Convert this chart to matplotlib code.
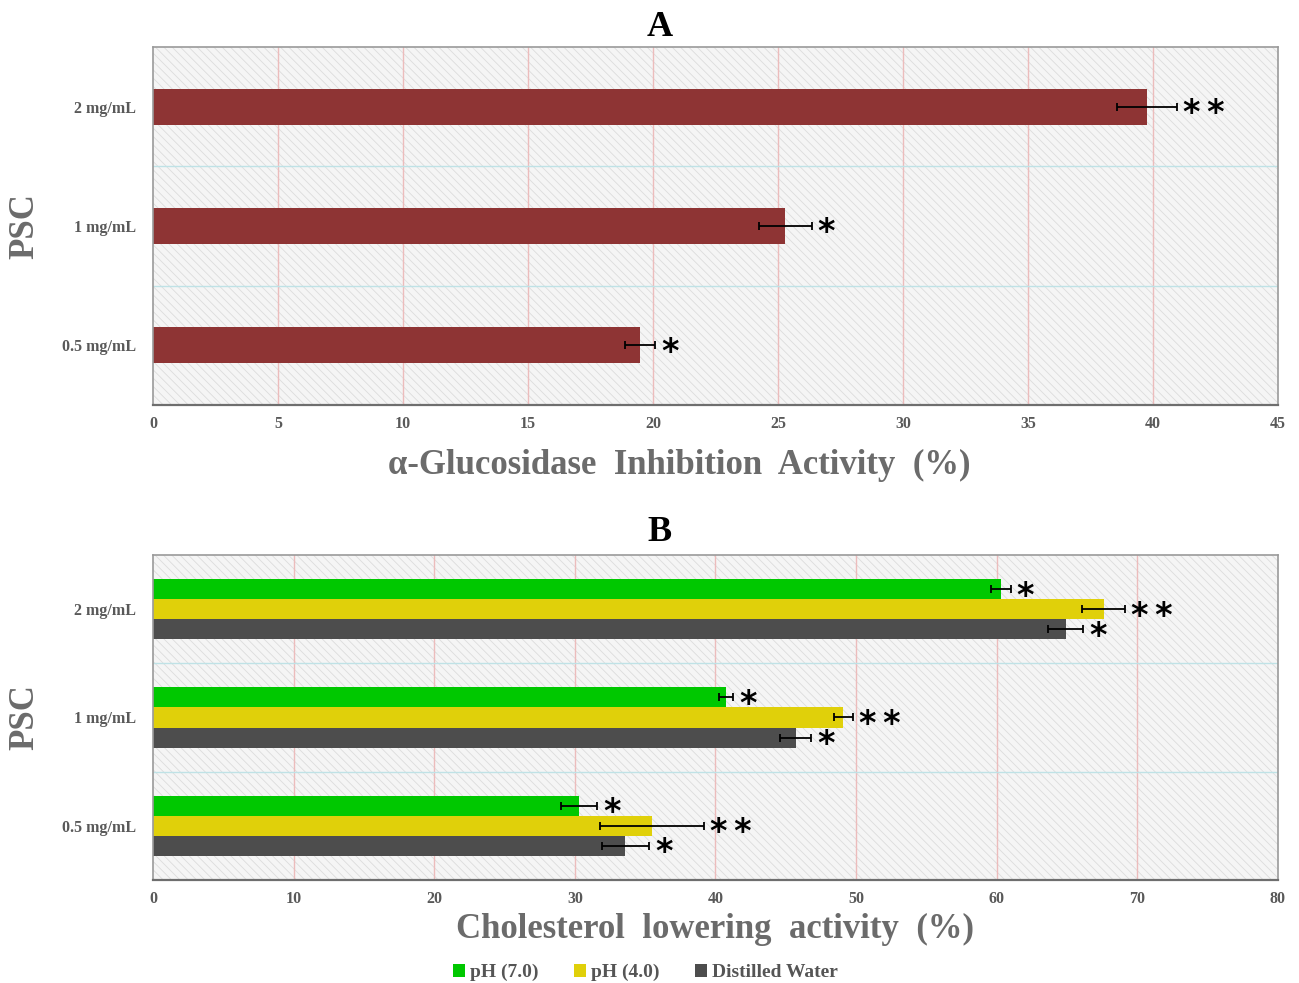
import matplotlib
matplotlib.use("Agg")
import matplotlib.pyplot as plt
import numpy as np
from matplotlib.patches import Rectangle

plt.rcParams['font.family'] = ['Liberation Serif', 'DejaVu Serif']
plt.rcParams['font.weight'] = 'bold'
plt.rcParams['axes.labelweight'] = 'bold'
plt.rcParams['axes.titleweight'] = 'bold'
plt.rcParams['hatch.color'] = '#dedede'
plt.rcParams['hatch.linewidth'] = 0.6

doses = ['0.5 mg/mL', '1 mg/mL', '2 mg/mL']

# panel A: alpha-glucosidase inhibition
gluc = [19.5, 25.3, 39.75]
gluc_err = [0.6, 1.05, 1.2]
gluc_sig = ['*', '*', '**']

# panel B: cholesterol lowering
series = ['pH (7.0)', 'pH (4.0)', 'Distilled Water']
chol_ph7 = [30.3, 40.75, 60.3]
chol_ph4 = [35.5, 49.1, 67.6]
chol_dw = [33.6, 45.7, 64.9]
err_ph7 = [1.3, 0.5, 0.7]
err_ph4 = [3.7, 0.7, 1.55]
err_dw = [1.7, 1.1, 1.25]
sig_ph7 = ['*', '*', '*']
sig_ph4 = ['**', '**', '**']
sig_dw = ['*', '*', '*']
colors = ['#00c800', '#e0d00a', '#4d4d4d']

tick_gray = '#595959'
label_gray = '#6b6b6b'


def style_axes(ax, xmax, step):
    ax.set_xlim(0, xmax)
    ax.set_ylim(-0.5, 2.5)
    ax.set_facecolor('#f5f5f5')
    ax.add_patch(Rectangle((0, 0), 1, 1, transform=ax.transAxes, facecolor='none',
                           edgecolor='#dcdcdc', hatch='\\\\\\\\', lw=0, zorder=0))
    for x in np.arange(step, xmax, step):
        ax.axvline(x, color='#ecbcbc', lw=1.0, zorder=1)
    for y in [0.5, 1.5]:
        ax.axhline(y, color='#bfe2e6', lw=1.0, zorder=1)
    ax.set_xticks(np.arange(0, xmax + 1, step))
    ax.set_yticks(range(len(doses)))
    ax.set_yticklabels(doses)
    ax.tick_params(axis='both', length=0, labelsize=11.5, labelcolor=tick_gray, pad=8)
    ax.tick_params(axis='y', pad=12)
    for s in ax.spines.values():
        s.set_color('#9a9a9a')
        s.set_linewidth(1.2)
    ax.spines['bottom'].set_color('#6e6e6e')
    ax.spines['bottom'].set_linewidth(1.6)
    ax.set_ylabel('PSC', fontsize=25, color=label_gray)
    ax.yaxis.set_label_coords(-0.0996, 0.5)


def stars(ax, x, y, s):
    # significance marks just right of the error bar, nudged down to sit on the bar centre
    ax.annotate(s.replace('**', '*\u2009*'), (x, y), xytext=(6, -7),
                textcoords='offset pixels', va='center', ha='left', fontsize=24,
                fontweight='bold', family='DejaVu Sans', color='black', zorder=4)


fig = plt.figure(figsize=(12.99, 9.83), dpi=100)

# ---- A ----
axA = fig.add_axes([0.1178, 0.588, 0.866, 0.3642])
style_axes(axA, 45, 5)
y = np.arange(len(doses))
axA.barh(y, gluc, height=0.3, color='#8e3434', zorder=2)
axA.errorbar(gluc, y, xerr=gluc_err, fmt='none', ecolor='black', elinewidth=1.3,
             capsize=3, capthick=1.3, zorder=3)
for v, e, yi, s in zip(gluc, gluc_err, y, gluc_sig):
    stars(axA, v + e, yi, s)
axA.set_xlabel('α-Glucosidase  Inhibition  Activity  (%)', fontsize=25,
               color=label_gray, va='center')
axA.xaxis.set_label_coords(0.468, -0.168)
axA.set_title('A', fontsize=26, color='black', x=0.45, pad=8)

# ---- B ----
axB = fig.add_axes([0.1178, 0.1048, 0.866, 0.3306])
style_axes(axB, 80, 10)
h = 0.185
offsets = [h, 0, -h]
vals = [chol_ph7, chol_ph4, chol_dw]
errs = [err_ph7, err_ph4, err_dw]
sigs = [sig_ph7, sig_ph4, sig_dw]
handles = []
for name, c, off, v, e, sg in zip(series, colors, offsets, vals, errs, sigs):
    b = axB.barh(y + off, v, height=h, color=c, zorder=2, label=name)
    handles.append(b)
    axB.errorbar(v, y + off, xerr=e, fmt='none', ecolor='black', elinewidth=1.3,
                 capsize=3, capthick=1.3, zorder=3)
    for vi, ei, yi, s in zip(v, e, y + off, sg):
        stars(axB, vi + ei, yi, s)
axB.set_xlabel('Cholesterol  lowering  activity  (%)', fontsize=25,
               color=label_gray, va='center')
axB.xaxis.set_label_coords(0.5, -0.151)
axB.set_title('B', fontsize=26, color='black', x=0.45, pad=10)

leg = fig.legend(handles=handles, labels=series, loc='center', ncol=3,
                 bbox_to_anchor=(0.497, 0.0105), frameon=False, fontsize=14,
                 handlelength=0.6, handleheight=0.6, handletextpad=0.3,
                 columnspacing=1.8)
for t in leg.get_texts():
    t.set_color('#555555')

fig.savefig('out.png', dpi=100)
